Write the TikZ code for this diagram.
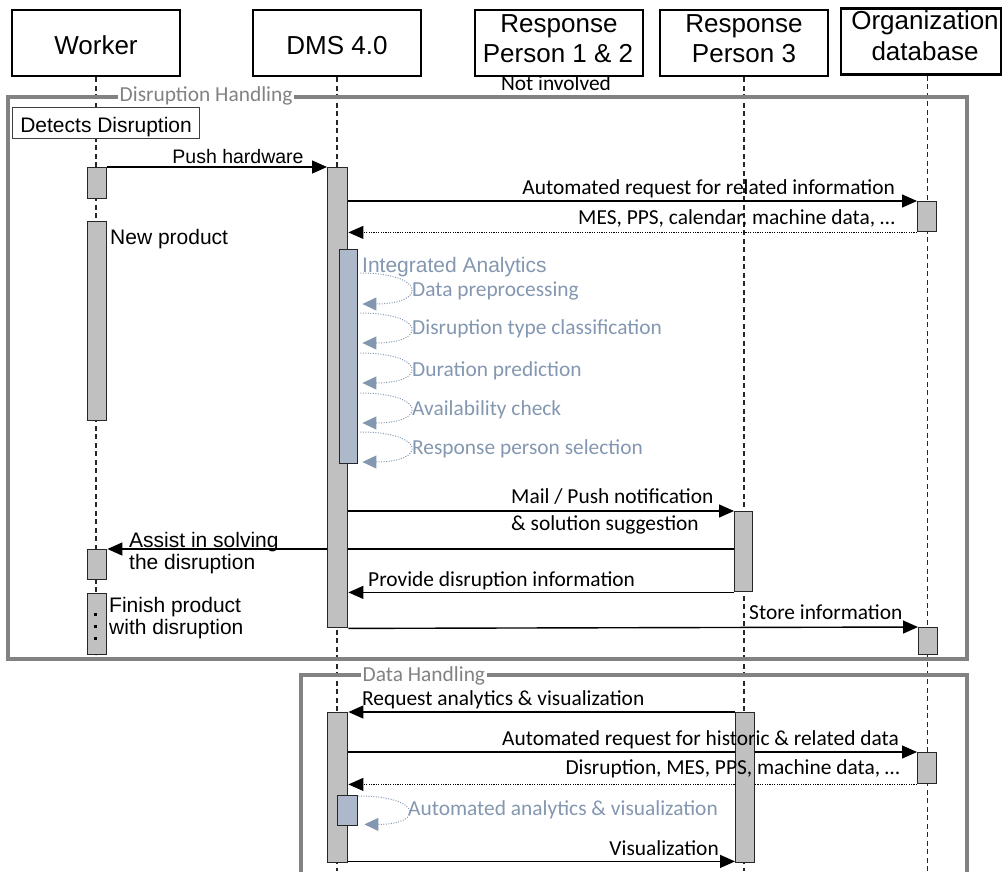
\documentclass[tikz,border=0pt]{standalone}
\usepackage{fontspec}
\setmainfont{Liberation Sans}
\newfontfamily\carlito{Carlito}
\usetikzlibrary{arrows.meta,calc}
\pgfdeclarelayer{background}
\pgfsetlayers{background,main}
\definecolor{actgray}{RGB}{192,192,192}
\definecolor{iafill}{RGB}{173,185,202}
\definecolor{iatext}{RGB}{132,151,176}
\definecolor{framegray}{RGB}{130,130,130}

\begin{document}
\begin{tikzpicture}[x=1pt,y=-1pt,
  headbox/.style={draw=black, line width=2.8pt, minimum width=168pt, minimum height=66pt, inner sep=0pt},
  headtext/.style={anchor=base, inner sep=0pt, font=\fontsize{26}{30}\selectfont},
  act/.style={draw=black!85, line width=1.4pt, fill=actgray, minimum width=19pt, inner sep=0pt, anchor=north west},
  iabox/.style={act, fill=iafill},
  lifeline/.style={draw=black!85, line width=1.2pt, dash pattern=on 5pt off 3.5pt},
  frame/.style={draw=framegray, line width=3.2pt},
  frametitle/.style={anchor=base west, fill=white, inner xsep=1.5pt, inner ysep=1pt, text=framegray, font=\carlito\fontsize{21.4}{25}\selectfont},
  msg/.style={draw=black, line width=1.4pt, -{Triangle[length=15pt,width=13pt]}},
  reply/.style={msg, line width=1pt, dash pattern=on 1.2pt off 1.2pt},
  selfmsg/.style={draw=iatext, line width=1pt, dash pattern=on 1pt off 1.5pt, -{Triangle[length=14pt,width=13pt]}},
  lblA/.style={inner sep=0pt, font=\fontsize{21}{25}\selectfont},
  lblC/.style={inner sep=0pt, font=\carlito\fontsize{21.4}{25}\selectfont},
  lblIA/.style={lblC, text=iatext, anchor=base west}
]
\useasboundingbox (0,0) rectangle (1003,871);
\coordinate (pagebottom) at (0,871);

% participants
\node[headbox] (worker) at (96,43) {};
\node[headbox] (dms) at (337,43) {};
\node[headbox] (rp12) at (559,43) {};
\node[headbox] (rp3) at (744,43) {};
\node[headbox, minimum width=160pt] (orgdb) at (921,41.5) {};
\node[headtext] (workerlbl) at (96,54.5) {Worker};
\node[headtext] (dmslbl) at (337,54.5) {DMS 4.0};
\node[headtext] (rp12lbla) at (559,32) {Response};
\node[headtext] (rp12lblb) at (558,62) {Person 1 \& 2};
\node[headtext] (rp3lbla) at (744,32) {Response};
\node[headtext] (rp3lblb) at (744,62) {Person 3};
\node[headtext] (orglbla) at (925,29.5) {Organization};
\node[headtext] (orglblb) at (925,60) {database};
\node[lblC, anchor=base] (notinv) at (556,90) {Not involved};

% activation bars
\node[act, minimum height=31pt] (W1) at (87,167) {};
\node[act, minimum height=199pt] (W2) at (87,221) {};
\node[act, minimum height=30pt] (W3) at (87,549) {};
\node[act, minimum height=61pt] (W4) at (87,593) {};
\node[act, minimum width=20pt, minimum height=460pt] (D1) at (327,167) {};
\node[iabox, minimum width=18pt, minimum height=214pt] (IA) at (339,249) {};
\node[act, minimum height=30pt] (O1) at (917,201) {};
\node[act, minimum width=18pt, minimum height=80pt] (R1) at (734,511) {};
\node[act, minimum height=27pt] (O2) at (918,627) {};
\node[act, minimum width=20pt, minimum height=150pt] (D2) at (327,712) {};
\node[act, minimum height=150pt] (R2) at (735,712) {};
\node[act, minimum height=31pt] (O3) at (917,752) {};
\node[iabox, minimum width=20pt, minimum height=30pt] (AA) at (337,795) {};
\foreach \y in {612.5,625,637}
  \fill (93.5,\y) rectangle ++(3,3);

% state box
\node[draw=black!75, line width=1.2pt, fill=white, minimum width=187pt, minimum height=31pt,
      inner sep=0pt, text height=19pt, text depth=0pt, anchor=north west,
      font=\fontsize{21}{25}\selectfont] (detect) at (12,107) {Detects Disruption};

% combined fragments
\node[frametitle] (dhtitle) at (118,101.5) {Disruption Handling};
\node[frametitle] (datatitle) at (361,681.5) {Data Handling};

% message labels
\node[lblA, anchor=base, font=\fontsize{19.5}{23}\selectfont] (lpush) at (238,163) {Push hardware};
\node[lblC, anchor=base east] (lreq) at (895,194) {Automated request for related information};
\node[lblC, anchor=base east] (lmes) at (895,224) {MES, PPS, calendar, machine data, …};
\node[lblA, anchor=base west] (lnew) at (110,244.5) {New product};
\node[lblA, anchor=base west, text=iatext] (lia) at (362,272) {Integrated Analytics};
\node[lblIA] (lia1) at (412,296) {Data preprocessing};
\node[lblIA] (lia2) at (412,334) {Disruption type classification};
\node[lblIA] (lia3) at (412,376) {Duration prediction};
\node[lblIA] (lia4) at (412,415) {Availability check};
\node[lblIA] (lia5) at (412,454.5) {Response person selection};
\node[lblC, anchor=base west] (lmail) at (511,503.5) {Mail / Push notification};
\node[lblC, anchor=base west] (lsugg) at (511,530) {\& solution suggestion};
\node[lblA, anchor=base west] (lassa) at (129,547) {Assist in solving};
\node[lblA, anchor=base west] (lassb) at (129,569) {the disruption};
\node[lblC, anchor=base west] (lprov) at (368,586) {Provide disruption information};
\node[lblA, anchor=base west] (lfina) at (109,612) {Finish product};
\node[lblA, anchor=base west] (lfinb) at (109,634.5) {with disruption};
\node[lblC, anchor=base west] (lstore) at (749,619.5) {Store information};
\node[lblC, anchor=base west] (lreqa) at (362,705) {Request analytics \& visualization};
\node[lblC, anchor=base east] (lhist) at (899,745) {Automated request for historic \& related data};
\node[lblC, anchor=base east] (ldata) at (900,774.5) {Disruption, MES, PPS, machine data, …};
\node[lblIA] (laa) at (408,815) {Automated analytics \& visualization};
\node[lblC, anchor=base east] (lvis) at (719,855) {Visualization};

\begin{pgfonlayer}{background}
  % lifelines
  \draw[lifeline] (worker.south) -- (worker.south |- W4.south);
  \draw[lifeline] (dms.south) -- (dms.south |- pagebottom);
  \draw[lifeline] (rp3.south) -- (rp3.south |- pagebottom);
  \draw[lifeline] (O1.north |- orgdb.south) -- (O1.north |- pagebottom);
  % fragment borders
  \draw[frame] (8,97) rectangle (967,659);
  \draw[frame] (301,880) |- (967,675) -- (967,880);
  % messages: disruption handling
  \draw[msg] (W1.north east) -- (D1.north west);
  \draw[msg] (D1.east |- O1.north west) -- (O1.north west);
  \draw[reply] (O1.south west) -- (D1.east |- O1.south west);
  \foreach \s/\e in {24/55, 64/94, 104/134, 144/174, 183/213}
    \draw[selfmsg] ($(IA.north east)+(2,\s)$) .. controls +(65,0) and +(65,0) .. ($(IA.north east)+(4,\e)$);
  \draw[msg] (D1.east |- R1.north west) -- (R1.north west);
  \draw[msg] (R1.west |- W3.north east) -- (W3.north east);
  \draw[msg] (R1.south west) -- (D1.east |- R1.south west);
  \draw[msg] (D1.south east) -- (O2.north west);
  % messages: data handling
  \draw[msg] (R2.north west) -- (D2.north east);
  \draw[msg] (D2.east |- O3.north west) -- (O3.north west);
  \draw[reply] (O3.south west) -- (D2.east |- O3.south west);
  \draw[selfmsg] ($(AA.north east)+(0,1)$) .. controls +(64,0) and +(60,0) .. ($(AA.south east)+(6,-2)$);
  \coordinate (vis) at ($(D2.south east)+(0,-2)$);
  \draw[msg] (vis) -- (vis -| R2.west);
\end{pgfonlayer}
\end{tikzpicture}
\end{document}
